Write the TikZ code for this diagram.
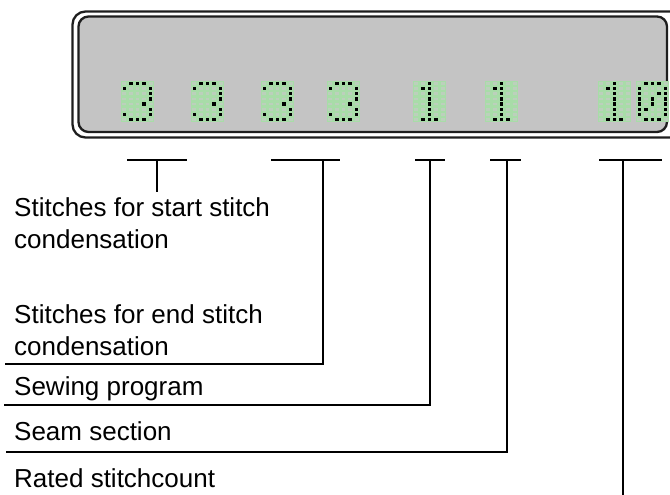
\documentclass[tikz,border=0pt]{standalone}
\usepackage{fontspec}
\setmainfont{Liberation Sans}
\definecolor{lcdgray}{HTML}{C4C4C4}
\definecolor{lcdgreen}{HTML}{A8DCA8}
\definecolor{cellgray}{HTML}{BCD0BC}
\definecolor{framec}{HTML}{1E1E1E}
\newcommand\dmdigit[3]{%
  \fill[lcdgreen] (#1,#2) rectangle ++(33,41);
  \foreach \cc in {0,...,4}{\foreach \rr in {0,...,7}{%
    \fill[cellgray] ({#1+\cc*6.6+1.4},{#2+\rr*5.125+1.2}) rectangle ++(3.8,2.8);}}
  \foreach \cc/\rr in #3{%
    \fill[black] ({#1+\cc*6.6+1.65},{#2+\rr*5.125+0.9}) rectangle ++(3.3,3.3);}
}
\newcommand\dthree{1/0,2/0,3/0,0/1,4/1,4/2,4/3,3/4,4/5,0/6,4/6,1/7,2/7,3/7}
\newcommand\done{2/0,1/1,2/1,2/2,2/3,2/4,2/5,2/6,1/7,2/7,3/7}
\newcommand\dzero{1/0,2/0,3/0,0/1,4/1,0/2,3/2,4/2,0/3,2/3,4/3,0/4,2/4,4/4,0/5,1/5,4/5,0/6,4/6,1/7,2/7,3/7}
\begin{document}
\begin{tikzpicture}[x=1pt,y=-1pt,
  lbl/.style={font=\fontsize{26}{32}\selectfont, inner sep=0pt, anchor=base west, align=left},
  callout/.style={line width=1.6pt, black},
  frame/.style={line width=2.3pt, draw=framec}]
\useasboundingbox (0,0) rectangle (670,495);
\begin{scope}
  \clip (0,0) rectangle (670,495);
  \draw[frame, rounded corners=13pt] (72.5,11.5) rectangle (710,137.5);
  \draw[frame, fill=lcdgray, rounded corners=10pt] (78.5,16.5) rectangle (667,132);
  \dmdigit{121}{81}{\dthree}
  \dmdigit{191}{81}{\dthree}
  \dmdigit{261}{81}{\dthree}
  \dmdigit{327}{81}{\dthree}
  \dmdigit{413}{81}{\done}
  \dmdigit{485}{81}{\done}
  \dmdigit{598}{81}{\done}
  \dmdigit{636}{81}{\dzero}
\end{scope}
% labels (base anchor = baseline of last line)
\node[lbl] (start) at (14,248) {Stitches for start stitch\\condensation};
\node[lbl] (endc) at (14,355) {Stitches for end stitch\\condensation};
\node[lbl] (prog) at (14,395) {Sewing program};
\node[lbl] (seam) at (14,440) {Seam section};
\node[lbl] (rated) at (14,487) {Rated stitchcount};
% callout coordinates
\coordinate (a1) at (127,160); \coordinate (a2) at (187,160);
\coordinate (a3) at (157,160); \coordinate (a4) at (157,192);
\coordinate (b1) at (271,160); \coordinate (b2) at (340,160);
\coordinate (b3) at (323,160); \coordinate (b4) at (323,364); \coordinate (b5) at (5,364);
\coordinate (c1) at (415,160); \coordinate (c2) at (445,160);
\coordinate (c3) at (430,160); \coordinate (c4) at (430,405); \coordinate (c5) at (4,405);
\coordinate (d1) at (490,160); \coordinate (d2) at (521,160);
\coordinate (d3) at (507,160); \coordinate (d4) at (507,452); \coordinate (d5) at (6,452);
\coordinate (e1) at (599,160); \coordinate (e2) at (662,160);
\coordinate (e3) at (623,160); \coordinate (e4) at (623,495);
\draw[callout] (a1) -- (a2) (a3) -- (a4);
\draw[callout] (b1) -- (b2) (b3) -- (b4) -- (b5);
\draw[callout] (c1) -- (c2) (c3) -- (c4) -- (c5);
\draw[callout] (d1) -- (d2) (d3) -- (d4) -- (d5);
\draw[callout] (e1) -- (e2) (e3) -- (e4);
\end{tikzpicture}
\end{document}
